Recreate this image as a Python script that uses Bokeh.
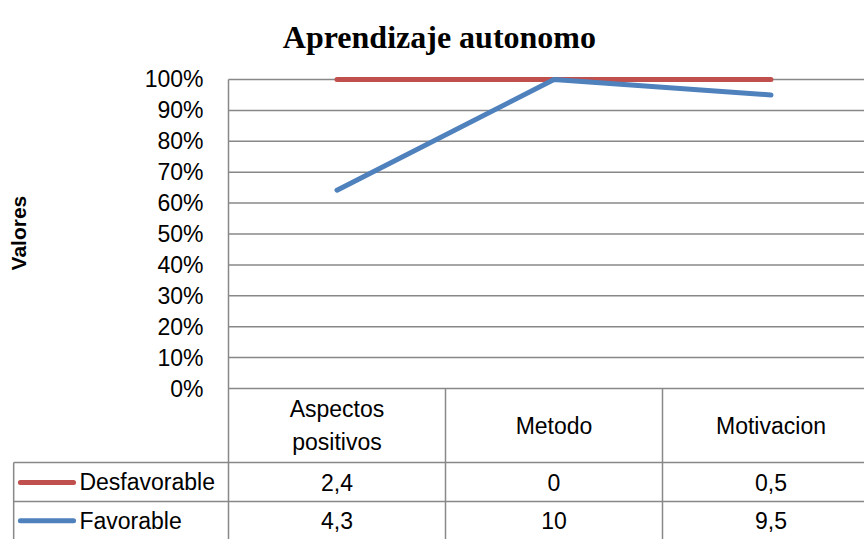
import numpy as np
from bokeh.plotting import figure
from bokeh.models import Range1d
from bokeh.core.properties import value
from bokeh.embed import file_html
from bokeh.resources import INLINE

# ---- data ----
title_text = "Aprendizaje autonomo"
y_label = "Valores"
categories = ["Aspectos\npositivos", "Metodo", "Motivacion"]
series_names = ["Desfavorable", "Favorable"]
desfavorable = [2.4, 0, 0.5]
favorable = [4.3, 10, 9.5]
y_ticks = [0, 10, 20, 30, 40, 50, 60, 70, 80, 90, 100]
series_colors = ["#C0504D", "#4F81BD"]

# ---- derived (100% stacked line) ----
des = np.array(desfavorable, dtype=float)
fav = np.array(favorable, dtype=float)
tot = des + fav
fav_pct = fav / tot * 100
des_stack = (fav + des) / tot * 100
xc = np.arange(len(categories)) + 0.5

FONT = "Liberation Sans"
GRID = "#888888"

W, H = 864, 539
p = figure(width=W, height=H, output_backend="svg", toolbar_location=None,
           x_range=Range1d(-1.05069, 2.93088), y_range=Range1d(-48.867, 125.566),
           min_border=0, outline_line_color=None)
p.xaxis.visible = False
p.yaxis.visible = False
p.xgrid.visible = False
p.ygrid.visible = False

# table / layout rows (in value units below 0)
row_hdr = -23.95
row1 = -36.57
row2 = -49.5
x_leg_left = -0.99
ncat = len(categories)

# horizontal gridlines
p.segment(x0=[0] * len(y_ticks), x1=[ncat] * len(y_ticks), y0=y_ticks, y1=y_ticks,
          line_color=GRID, line_width=1.5)
# table horizontal lines
p.segment(x0=[x_leg_left, x_leg_left], x1=[ncat] * 2,
          y0=[row_hdr, row1], y1=[row_hdr, row1],
          line_color=GRID, line_width=1.5)
# vertical lines
vx0 = [0] + list(range(1, ncat + 1)) + [x_leg_left]
vy0 = [100] + [0] * ncat + [row_hdr]
p.segment(x0=vx0, x1=vx0, y0=vy0, y1=[row2] * len(vx0), line_color=GRID, line_width=1.5)

# y tick labels
p.text(x=[-0.115] * len(y_ticks), y=y_ticks, text=[f"{t}%" for t in y_ticks],
       text_font=value(FONT), text_font_size="23px", text_align="right",
       text_baseline="middle", text_color="#000000")

# y label
p.text(x=[-0.968], y=[50.3], text=[y_label], angle=np.pi / 2,
       text_font=value(FONT), text_font_size="21px", text_font_style="bold",
       text_align="center", text_baseline="middle", text_color="#000000")

# title
p.text(x=[0.972], y=[113.6], text=[title_text], text_font=value("Liberation Serif"),
       text_font_size="32px", text_font_style="bold", text_align="center",
       text_baseline="alphabetic", text_color="#000000")

# lines
p.line(xc, des_stack, line_color=series_colors[0], line_width=5, line_cap="round",
       line_join="round")
p.line(xc, fav_pct, line_color=series_colors[1], line_width=5, line_cap="round",
       line_join="round")

# category header
p.text(x=xc, y=[-12.0] * ncat, text=categories, text_font=value(FONT),
       text_font_size="23px", text_align="center", text_baseline="middle",
       text_line_height=1.3, text_color="#000000")

def fmt(v):
    return f"{v:g}".replace(".", ",")

row_centers = [-30.4, -42.8]
for vals, yc, name, col in zip([desfavorable, favorable], row_centers, series_names, series_colors):
    p.text(x=xc, y=[yc] * ncat, text=[fmt(v) for v in vals], text_font=value(FONT),
           text_font_size="23px", text_align="center", text_baseline="middle",
           text_color="#000000")
    p.segment(x0=[-0.959], x1=[-0.714], y0=[yc], y1=[yc], line_color=col,
              line_width=5, line_cap="round")
    p.text(x=[-0.687], y=[yc], text=[name], text_font=value(FONT),
           text_font_size="23px", text_align="left", text_baseline="middle",
           text_color="#000000")

open("out.html", "w").write(file_html(p, INLINE))
